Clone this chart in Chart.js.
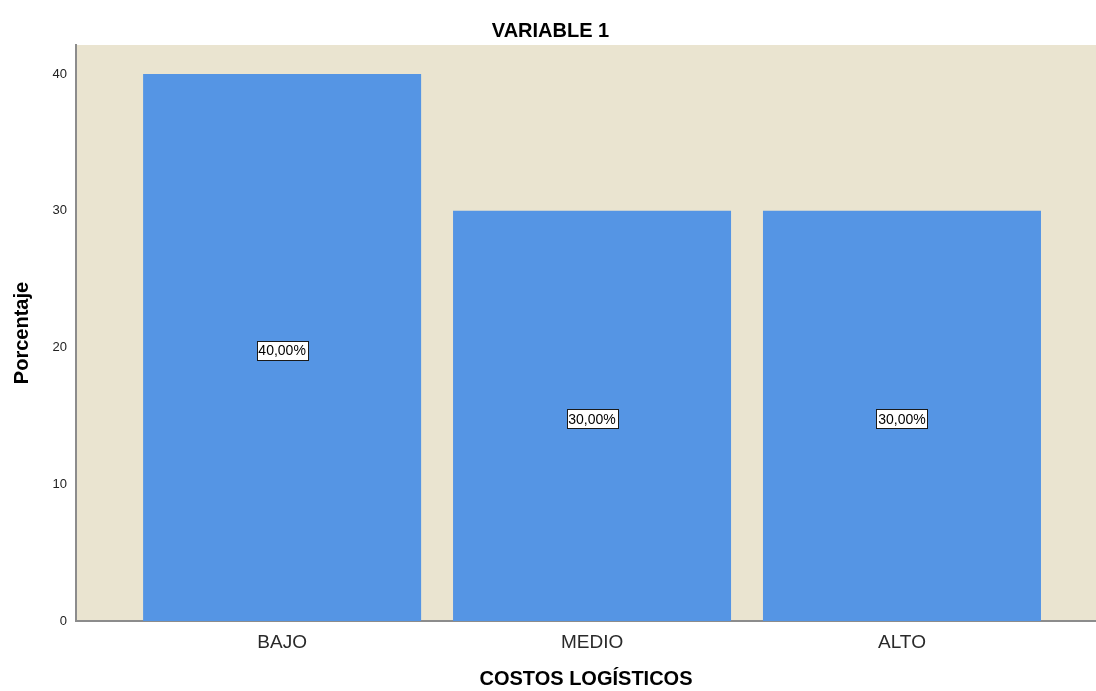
<!DOCTYPE html>
<html>
<head>
<meta charset="utf-8">
<script src="https://cdn.jsdelivr.net/npm/chart.js@4.4.1/dist/chart.umd.min.js"></script>
<style>
html,body{margin:0;padding:0;background:#fff;}
#wrap{width:1096px;height:691px;position:relative;}
</style>
</head>
<body>
<div id="wrap"><canvas id="c" width="1096" height="691"></canvas></div>
<script>
const categories = ['BAJO', 'MEDIO', 'ALTO'];
const percentages = [40, 30, 30];
const yTicks = [0, 10, 20, 30, 40];

const FONT = '"Liberation Sans", Arial, sans-serif';

const bgPlugin = {
  id: 'bg',
  beforeDraw(chart) {
    const a = chart.chartArea, ctx = chart.ctx;
    ctx.save();
    ctx.fillStyle = '#EAE4D0';
    ctx.fillRect(a.left, a.top, a.right - a.left, a.bottom - a.top);
    ctx.restore();
  }
};

const labelPlugin = {
  id: 'barLabels',
  afterDatasetsDraw(chart) {
    const ctx = chart.ctx;
    const meta = chart.getDatasetMeta(0);
    const ys = chart.scales.y;
    ctx.save();
    ctx.font = '14px ' + FONT;
    ctx.textAlign = 'center';
    ctx.textBaseline = 'middle';
    meta.data.forEach((bar, i) => {
      const v = percentages[i];
      const txt = v.toFixed(2).replace('.', ',') + '%';
      const x = bar.x;
      const y = ys.getPixelForValue(v / 2) + 3;
      const w = Math.round(ctx.measureText(txt).width + 4);
      const h = 19;
      const bx = Math.round(x - w / 2) + 0.5, by = Math.round(y - h / 2) + 0.5;
      ctx.fillStyle = '#ffffff';
      ctx.fillRect(bx, by, w, h);
      ctx.strokeStyle = '#1a1a1a';
      ctx.lineWidth = 1;
      ctx.strokeRect(bx, by, w, h);
      ctx.fillStyle = '#000';
      ctx.fillText(txt, x, y + 1);
    });
    ctx.restore();
  }
};

new Chart(document.getElementById('c'), {
  type: 'bar',
  data: {
    datasets: [{
      data: percentages.map((v, i) => ({ x: i, y: v })),
      backgroundColor: '#5595E4',
      borderWidth: 0,
      barPercentage: 0.897,
      categoryPercentage: 1.0
    }]
  },
  options: {
    responsive: false,
    animation: false,
    layout: { padding: { left: 5, right: 0, top: 0, bottom: 0 } },
    plugins: {
      legend: { display: false },
      tooltip: { enabled: false },
      title: {
        display: true,
        text: 'VARIABLE 1',
        color: '#000',
        font: { family: FONT, size: 20, weight: 'bold' },
        padding: { top: 19, bottom: 2 }
      }
    },
    scales: {
      x: {
        type: 'linear',
        offset: false,
        min: -0.665,
        max: 2.626,
        grid: { display: false, drawTicks: false, offset: false },
        border: { display: true, color: '#8c8c8c', width: 2 },
        afterBuildTicks(scale) { scale.ticks = categories.map((c, i) => ({ value: i })); },
        ticks: {
          callback: (v) => categories[v],
          color: '#2a2a2a',
          font: { family: FONT, size: 19 },
          padding: 10,
          maxRotation: 0,
          autoSkip: false
        },
        title: {
          display: true,
          text: 'COSTOS LOGÍSTICOS',
          color: '#000',
          font: { family: FONT, size: 20, weight: 'bold' },
          padding: { top: 0, bottom: 0 }
        },
        afterFit(scale) { scale.height = 70; }
      },
      y: {
        min: 0,
        max: 42.12,
        grid: { display: false, drawTicks: false },
        border: { display: true, color: '#8c8c8c', width: 2 },
        afterBuildTicks(scale) { scale.ticks = yTicks.map(v => ({ value: v })); },
        ticks: {
          color: '#222',
          font: { family: FONT, size: 13 },
          padding: 9,
          includeBounds: false
        },
        title: {
          display: true,
          text: 'Porcentaje',
          color: '#000',
          font: { family: FONT, size: 20, weight: 'bold' },
          padding: { top: 5, bottom: 0 }
        },
        afterFit(scale) { scale.width = 71; }
      }
    }
  },
  plugins: [bgPlugin, labelPlugin]
});
</script>
</body>
</html>
